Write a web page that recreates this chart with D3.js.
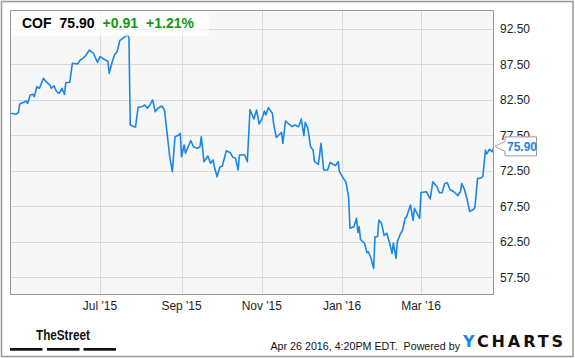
<!DOCTYPE html>
<html>
<head>
<meta charset="utf-8">
<script src="https://cdn.jsdelivr.net/npm/d3@7"></script>
<style>
  body { margin: 0; background: #fff; }
  svg { display: block; font-family: Arial, "Liberation Sans", sans-serif; }
</style>
</head>
<body>
<script>
// COF price, one year to Apr 26 2016

var ticker = 'COF';
var lastPrice = '75.90';
var change = '+0.91';
var changePct = '+1.21%';

var dates = [
  '2015-04-24','2015-04-28','2015-04-30','2015-05-01','2015-05-04','2015-05-06','2015-05-07','2015-05-09',
  '2015-05-11','2015-05-12','2015-05-14','2015-05-16','2015-05-17','2015-05-19','2015-05-21','2015-05-24',
  '2015-05-25','2015-05-27','2015-05-29','2015-05-31','2015-06-02','2015-06-04','2015-06-05','2015-06-08',
  '2015-06-10','2015-06-14','2015-06-16','2015-06-18','2015-06-20','2015-06-23','2015-06-26','2015-06-29',
  '2015-07-01','2015-07-05','2015-07-07','2015-07-08','2015-07-10','2015-07-12','2015-07-14','2015-07-16',
  '2015-07-20','2015-07-22','2015-07-23','2015-07-24','2015-07-27','2015-07-28','2015-07-30','2015-08-02',
  '2015-08-04','2015-08-06','2015-08-08','2015-08-10','2015-08-12','2015-08-14','2015-08-17','2015-08-19',
  '2015-08-21','2015-08-22','2015-08-23','2015-08-25','2015-08-27','2015-08-30','2015-08-31','2015-09-01',
  '2015-09-03','2015-09-04','2015-09-06','2015-09-08','2015-09-10','2015-09-13','2015-09-15','2015-09-16',
  '2015-09-18','2015-09-21','2015-09-23','2015-09-25','2015-09-26','2015-09-28','2015-09-30','2015-10-02',
  '2015-10-05','2015-10-08','2015-10-10','2015-10-12','2015-10-14','2015-10-15','2015-10-19','2015-10-21',
  '2015-10-23','2015-10-26','2015-10-28','2015-10-30','2015-11-01','2015-11-03','2015-11-04','2015-11-06',
  '2015-11-09','2015-11-10','2015-11-12','2015-11-14','2015-11-16','2015-11-17','2015-11-19','2015-11-21',
  '2015-11-24','2015-11-26','2015-11-29','2015-12-01','2015-12-03','2015-12-04','2015-12-06','2015-12-08',
  '2015-12-10','2015-12-11','2015-12-14','2015-12-16','2015-12-18','2015-12-21','2015-12-23','2015-12-25',
  '2015-12-27','2015-12-29','2015-12-30','2016-01-02','2016-01-04','2016-01-06','2016-01-07','2016-01-10',
  '2016-01-12','2016-01-13','2016-01-14','2016-01-15','2016-01-18','2016-01-20','2016-01-21','2016-01-23',
  '2016-01-25','2016-01-26','2016-01-28','2016-01-29','2016-01-31','2016-02-02','2016-02-04','2016-02-06',
  '2016-02-08','2016-02-09','2016-02-11','2016-02-12','2016-02-14','2016-02-16','2016-02-18','2016-02-19',
  '2016-02-22','2016-02-24','2016-02-25','2016-02-29','2016-03-01','2016-03-05','2016-03-08','2016-03-10',
  '2016-03-13','2016-03-15','2016-03-17','2016-03-19','2016-03-21','2016-03-23','2016-03-26','2016-03-29',
  '2016-03-31','2016-04-01','2016-04-03','2016-04-05','2016-04-07','2016-04-10','2016-04-11','2016-04-13',
  '2016-04-15','2016-04-17','2016-04-19','2016-04-20','2016-04-22','2016-04-24','2016-04-26'
];

var prices = [
  80.56,80.42,80.70,81.87,82.11,82.29,81.96,83.13,
  83.23,82.89,84.30,84.08,84.54,85.49,85.01,84.54,
  84.08,84.44,83.60,83.37,84.08,83.23,84.87,84.92,
  87.60,87.50,88.06,88.30,88.67,89.47,89.01,87.74,
  88.53,88.06,87.92,86.19,87.60,88.77,89.23,90.78,
  91.35,91.65,91.12,78.91,78.67,78.63,81.40,81.49,
  81.73,81.26,81.73,82.43,80.78,81.26,81.58,81.02,
  77.74,76.09,74.44,72.33,77.26,77.50,77.74,74.44,
  76.09,74.92,75.85,76.70,75.85,75.63,75.85,77.26,
  73.74,74.54,73.51,73.98,72.95,71.63,72.95,73.13,
  75.29,75.01,74.36,74.22,72.57,74.68,74.68,73.74,
  81.09,79.75,81.02,79.05,79.75,80.88,80.32,81.35,
  80.56,79.05,77.15,77.50,77.88,76.33,79.47,79.15,
  78.67,78.91,78.67,79.75,77.40,79.29,78.44,75.85,
  75.39,73.74,73.37,76.33,72.57,72.57,73.65,73.37,
  73.18,73.74,72.33,71.40,70.84,68.70,64.36,64.59,
  65.77,63.77,64.59,62.78,62.25,60.92,61.06,60.13,
  58.70,63.13,63.20,65.53,65.06,63.35,63.65,62.36,
  60.84,62.29,60.13,62.47,63.42,64.12,65.81,65.95,
  67.64,65.46,67.18,65.77,69.40,69.51,68.49,70.92,
  70.25,69.37,69.37,70.67,70.78,69.82,69.51,68.95,
  69.51,70.67,69.85,68.46,66.70,67.04,67.32,71.40,
  71.40,71.63,75.39,74.84,75.49,75.15,75.90
];

var yTicks = [57.5, 62.5, 67.5, 72.5, 77.5, 82.5, 87.5, 92.5];
var xTickLabels = ["Jul '15", "Sep '15", "Nov '15", "Jan '16", "Mar '16"];
var xTickDates = ['2015-07-01', '2015-09-01', '2015-11-01', '2016-01-01', '2016-03-01'];
var timestamp = 'Apr 26 2016, 4:20PM EDT.  Powered by';

var width = 575;
var height = 358;
var plot = { left: 10, top: 10, right: 494, bottom: 295 };
var blue = '#1a87e3';

var parseDate = d3.timeParse('%Y-%m-%d');
var data = dates.map(function(d, i) { return { date: parseDate(d), price: prices[i] }; });

var x = d3.scaleTime()
  .domain([parseDate('2015-07-01'), parseDate('2016-03-01')])
  .range([100, 421]);

var y = d3.scaleLinear()
  .domain([57.5, 92.5])
  .range([277, 28.5]);

var svg = d3.select('body').append('svg')
  .attr('width', width)
  .attr('height', height);

// outer frame
svg.append('rect')
  .attr('x', 1.5).attr('y', 1.5)
  .attr('width', width - 3.5).attr('height', height - 3)
  .attr('fill', '#fff')
  .attr('stroke', '#999')
  .attr('stroke-width', 1.5);

// plot background
svg.append('rect')
  .attr('x', plot.left).attr('y', plot.top)
  .attr('width', plot.right - plot.left).attr('height', plot.bottom - plot.top)
  .attr('fill', '#f7f7f7');

svg.append('clipPath').attr('id', 'clip')
  .append('rect')
  .attr('x', plot.left).attr('y', plot.top)
  .attr('width', plot.right - plot.left).attr('height', plot.bottom - plot.top);

// gridlines
svg.selectAll('.hgrid')
  .data(yTicks)
  .enter().append('line')
  .attr('class', 'hgrid')
  .attr('x1', plot.left).attr('x2', plot.right)
  .attr('y1', function(d) { return Math.round(y(d)) + 0.5; })
  .attr('y2', function(d) { return Math.round(y(d)) + 0.5; })
  .attr('stroke', '#d9d9d9');

svg.selectAll('.vgrid')
  .data(xTickDates)
  .enter().append('line')
  .attr('class', 'vgrid')
  .attr('x1', function(d) { return Math.round(x(parseDate(d))) + 0.5; })
  .attr('x2', function(d) { return Math.round(x(parseDate(d))) + 0.5; })
  .attr('y1', plot.top).attr('y2', plot.bottom)
  .attr('stroke', '#d9d9d9');

// price line
var line = d3.line()
  .x(function(d) { return x(d.date); })
  .y(function(d) { return y(d.price); });

svg.append('path')
  .datum(data)
  .attr('clip-path', 'url(#clip)')
  .attr('d', line)
  .attr('fill', 'none')
  .attr('stroke', blue)
  .attr('stroke-width', 1.6)
  .attr('stroke-linejoin', 'round');

// plot border
svg.append('rect')
  .attr('x', plot.left + 0.5).attr('y', plot.top + 0.5)
  .attr('width', plot.right - plot.left - 1).attr('height', plot.bottom - plot.top - 1)
  .attr('fill', 'none')
  .attr('stroke', '#999');

// header box
svg.append('rect')
  .attr('x', plot.left + 1).attr('y', plot.top + 1)
  .attr('width', 198).attr('height', 25)
  .attr('fill', '#fff')
  .attr('opacity', 0.7);

var header = svg.append('text')
  .attr('x', 22).attr('y', 28)
  .attr('font-size', 14)
  .attr('font-weight', 'bold');
header.append('tspan').attr('fill', '#000').text(ticker);
header.append('tspan').attr('fill', '#000').attr('dx', 8).text(lastPrice);
header.append('tspan').attr('fill', '#119911').attr('dx', 8).text(change);
header.append('tspan').attr('fill', '#119911').attr('dx', 8).text(changePct);

// y axis labels
svg.selectAll('.ylabel')
  .data(yTicks)
  .enter().append('text')
  .attr('class', 'ylabel')
  .attr('x', 500)
  .attr('y', function(d) { return y(d) + 4.5; })
  .attr('font-size', 12)
  .attr('fill', '#222')
  .text(function(d) { return d3.format('.2f')(d); });

// x axis labels
svg.selectAll('.xlabel')
  .data(xTickDates)
  .enter().append('text')
  .attr('class', 'xlabel')
  .attr('x', function(d) { return x(parseDate(d)); })
  .attr('y', 310)
  .attr('text-anchor', 'middle')
  .attr('font-size', 12)
  .attr('fill', '#222')
  .text(function(d, i) { return xTickLabels[i]; });

// last price tag
var last = data[data.length - 1];
var tagY = y(last.price);
svg.append('path')
  .attr('d', 'M' + (plot.right + 1) + ',' + tagY +
    'L505,' + (tagY - 5) + 'L505,' + (tagY - 9.5) + 'L536.5,' + (tagY - 9.5) +
    'L536.5,' + (tagY + 9.5) + 'L505,' + (tagY + 9.5) + 'L505,' + (tagY + 5) + 'Z')
  .attr('fill', '#fff')
  .attr('stroke', '#999');
svg.append('text')
  .attr('x', 507).attr('y', tagY + 4.5)
  .attr('font-size', 12)
  .attr('font-weight', 'bold')
  .attr('fill', blue)
  .text(lastPrice);

// TheStreet logo
svg.append('text')
  .attr('x', 36).attr('y', 340)
  .attr('font-size', 14)
  .attr('font-weight', 'bold')
  .attr('textLength', 54)
  .attr('lengthAdjust', 'spacingAndGlyphs')
  .attr('fill', '#111')
  .text('TheStreet');
svg.selectAll('.bar')
  .data([10, 47, 83.5])
  .enter().append('rect')
  .attr('class', 'bar')
  .attr('x', function(d) { return d; })
  .attr('y', 348)
  .attr('width', 32.5).attr('height', 2.7)
  .attr('fill', '#111');

// footer
svg.append('text')
  .attr('x', 460).attr('y', 350)
  .attr('text-anchor', 'end')
  .attr('font-size', 10.7)
  .attr('fill', '#111')
  .attr('xml:space', 'preserve')
  .text(timestamp);

var yc = svg.append('text')
  .attr('x', 463).attr('y', 347)
  .attr('font-family', '"DejaVu Sans", sans-serif')
  .attr('font-size', 16)
  .attr('font-weight', 'bold')
  .attr('textLength', 100)
  .attr('lengthAdjust', 'spacing');
yc.append('tspan').attr('fill', blue).text('Y');
yc.append('tspan').attr('fill', '#111').text('CHARTS');
</script>
</body>
</html>
